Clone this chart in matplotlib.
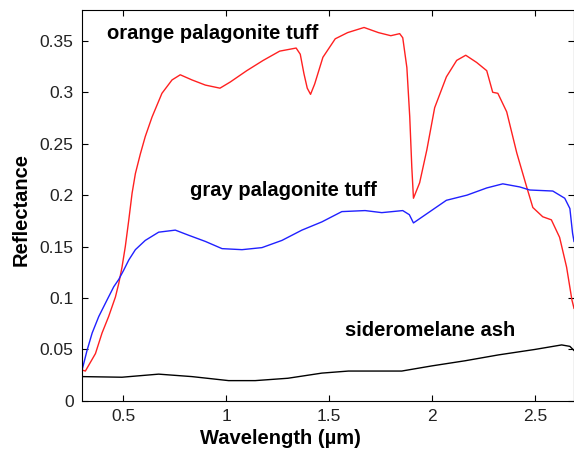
import matplotlib
matplotlib.use("Agg")
import matplotlib.pyplot as plt
from matplotlib.ticker import FixedLocator, FixedFormatter


# orange palagonite tuff (red)
orange_x = [0.30, 0.316, 0.365, 0.397, 0.429, 0.462, 0.478, 0.494, 0.510, 0.527,
            0.543, 0.559, 0.583, 0.607, 0.64, 0.688, 0.737, 0.777, 0.834, 0.899,
            0.97, 1.02, 1.10, 1.18, 1.26, 1.34, 1.36, 1.378, 1.394, 1.41,
            1.43, 1.47, 1.53, 1.59, 1.67, 1.74, 1.80, 1.843, 1.858, 1.878,
            1.892, 1.902, 1.91, 1.94, 1.975, 2.013, 2.07, 2.12, 2.164, 2.217,
            2.266, 2.295, 2.32, 2.363, 2.412, 2.46, 2.49, 2.538, 2.58, 2.62,
            2.654, 2.68, 2.69]
orange_y = [0.030, 0.029, 0.046, 0.066, 0.082, 0.101, 0.114, 0.130, 0.150, 0.176,
            0.202, 0.221, 0.240, 0.257, 0.276, 0.299, 0.312, 0.317, 0.312, 0.307,
            0.304, 0.310, 0.321, 0.331, 0.340, 0.343, 0.337, 0.318, 0.304, 0.298,
            0.308, 0.334, 0.352, 0.358, 0.363, 0.358, 0.355, 0.357, 0.353, 0.324,
            0.276, 0.227, 0.197, 0.212, 0.244, 0.285, 0.315, 0.331, 0.336, 0.329,
            0.321, 0.300, 0.299, 0.281, 0.241, 0.208, 0.188, 0.179, 0.176, 0.159,
            0.130, 0.098, 0.090]

# gray palagonite tuff (blue)
gray_x = [0.30, 0.324, 0.349, 0.381, 0.421, 0.454, 0.478, 0.502, 0.527, 0.559,
          0.607, 0.672, 0.753, 0.818, 0.899, 0.98, 1.077, 1.174, 1.271, 1.368,
          1.465, 1.562, 1.675, 1.756, 1.858, 1.89, 1.91, 1.99, 2.07, 2.17,
          2.266, 2.344, 2.426, 2.475, 2.587, 2.645, 2.67, 2.683, 2.69]
gray_y = [0.030, 0.049, 0.066, 0.082, 0.098, 0.111, 0.118, 0.127, 0.137, 0.147,
          0.156, 0.164, 0.166, 0.161, 0.155, 0.148, 0.147, 0.149, 0.156, 0.166,
          0.174, 0.184, 0.185, 0.183, 0.185, 0.181, 0.173, 0.184, 0.195, 0.200,
          0.207, 0.211, 0.208, 0.205, 0.204, 0.197, 0.187, 0.163, 0.155]

# sideromelane ash (black)
ash_x = [0.30, 0.494, 0.672, 0.834, 1.012, 1.141, 1.30, 1.465, 1.594, 1.853,
         1.999, 2.161, 2.323, 2.50, 2.63, 2.67, 2.69]
ash_y = [0.0236, 0.023, 0.026, 0.0236, 0.0197, 0.0197, 0.022, 0.027, 0.029, 0.029,
         0.034, 0.039, 0.0447, 0.050, 0.0544, 0.053, 0.049]

x_ticks = [0.5, 1, 1.5, 2, 2.5]
x_tick_labels = ["0.5", "1", "1.5", "2", "2.5"]
y_ticks = [0, 0.05, 0.1, 0.15, 0.2, 0.25, 0.3, 0.35]
y_tick_labels = ["0", "0.05", "0.1", "0.15", "0.2", "0.25", "0.3", "0.35"]

plt.rcParams["font.family"] = ["Liberation Sans", "DejaVu Sans"]

fig = plt.figure(figsize=(5.74, 4.54), dpi=100)
ax = fig.add_axes([0.143, 0.117, 0.857, 0.861])

ax.plot(orange_x, orange_y, color="#ff2020", lw=1.0)
ax.plot(gray_x, gray_y, color="#2020ff", lw=1.0)
ax.plot(ash_x, ash_y, color="black", lw=1.0)

ax.set_xlim(0.3, 2.69)
ax.set_ylim(0, 0.38)

ax.xaxis.set_major_locator(FixedLocator(x_ticks))
ax.xaxis.set_major_formatter(FixedFormatter(x_tick_labels))
ax.yaxis.set_major_locator(FixedLocator(y_ticks))
ax.yaxis.set_major_formatter(FixedFormatter(y_tick_labels))

ax.tick_params(direction="in", length=4, width=0.8, top=True, right=True,
               labelsize=12.5, labelcolor="#222222", pad=6)
for s in ax.spines.values():
    s.set_linewidth(0.8)

ax.text(0.42, 0.357, "orange palagonite tuff", fontsize=14.5, fontweight="bold",
        va="center", ha="left")
ax.text(0.824, 0.205, "gray palagonite tuff", fontsize=14.5, fontweight="bold",
        va="center", ha="left")
ax.text(1.577, 0.068, "sideromelane ash", fontsize=14.5, fontweight="bold",
        va="center", ha="left")

ax.set_xlabel("Wavelength (\u00b5m)", fontsize=14.5, fontweight="bold")
ax.xaxis.set_label_coords(0.404, -0.072)
ax.set_ylabel("Reflectance", fontsize=14.5, fontweight="bold")
ax.yaxis.set_label_coords(-0.105, 0.49)

fig.savefig("out.png", dpi=100)
plt.close(fig)
